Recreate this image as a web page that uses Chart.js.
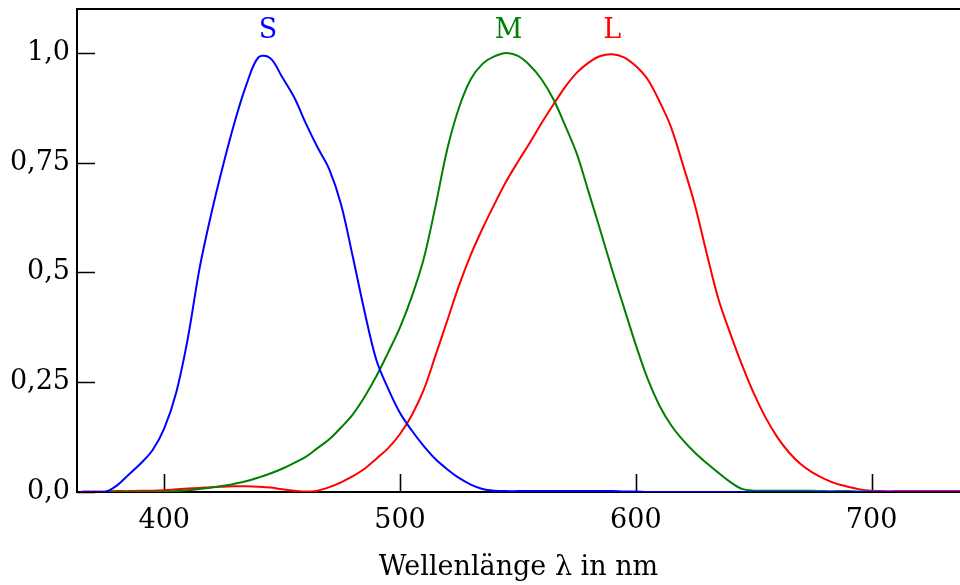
<!DOCTYPE html>
<html>
<head>
<meta charset="utf-8">
<script src="https://cdn.jsdelivr.net/npm/chart.js@4"></script>
<style>
  body { margin: 0; background: #fff; }
  canvas { display: block; }
</style>
</head>
<body>
<canvas id="coneChart" width="960" height="585"></canvas>
<script>
// wavelength grid (nm) and normalised cone sensitivities
const wavelengths = [365, 370, 375, 380, 385, 390, 395, 400, 405, 410, 415, 420, 425, 430, 435, 440, 445, 450, 455, 460,
    465, 470, 475, 480, 485, 490, 495, 500, 505, 510, 515, 520, 525, 530, 535, 540, 545, 550, 555, 560,
    565, 570, 575, 580, 585, 590, 595, 600, 605, 610, 615, 620, 625, 630, 635, 640, 645, 650, 655, 660,
    665, 670, 675, 680, 685, 690, 695, 700, 705, 710, 715, 720, 725, 730, 735, 740];

const sCone = [0, 0, 0, 0.015, 0.04, 0.065, 0.095, 0.145, 0.225, 0.35, 0.51, 0.635, 0.745, 0.845, 0.93, 0.99, 0.988, 0.945, 0.9, 0.84,
    0.785, 0.735, 0.655, 0.535, 0.41, 0.3, 0.235, 0.18, 0.14, 0.105, 0.075, 0.052, 0.032, 0.017, 0.007, 0.003, 0.002, 0.002, 0.002, 0.002,
    0.002, 0.002, 0.002, 0.002, 0.002, 0.002, 0.001, 0.001, 0, 0, 0, 0, 0, 0, 0, 0, 0, 0, 0, 0,
    0, 0, 0, 0, 0, 0, 0, 0, 0, 0, 0, 0, 0, 0, 0, 0];

const mCone = [0, 0, 0, 0, 0, 0, 0, 0, 0.002, 0.004, 0.007, 0.01, 0.014, 0.019, 0.025, 0.033, 0.042, 0.053, 0.066, 0.08,
    0.1, 0.12, 0.147, 0.177, 0.217, 0.264, 0.318, 0.375, 0.445, 0.53, 0.65, 0.78, 0.875, 0.94, 0.975, 0.992, 1.0, 0.993, 0.972, 0.94,
    0.895, 0.835, 0.77, 0.683, 0.595, 0.505, 0.42, 0.335, 0.258, 0.197, 0.152, 0.118, 0.09, 0.066, 0.044, 0.023, 0.007, 0.003, 0.003, 0.003,
    0.003, 0.003, 0.003, 0.002, 0.002, 0.002, 0.001, 0.001, 0, 0, 0, 0, 0, 0, 0, 0];

const lCone = [0.001, 0.001, 0.001, 0.002, 0.002, 0.003, 0.003, 0.004, 0.006, 0.008, 0.009, 0.011, 0.012, 0.013, 0.013, 0.012, 0.01, 0.006, 0.003, 0.001,
    0.003, 0.011, 0.022, 0.036, 0.053, 0.076, 0.1, 0.132, 0.175, 0.232, 0.31, 0.39, 0.47, 0.54, 0.6, 0.655, 0.707, 0.752, 0.795, 0.84,
    0.882, 0.922, 0.955, 0.978, 0.993, 0.997, 0.99, 0.97, 0.94, 0.89, 0.83, 0.745, 0.655, 0.545, 0.44, 0.362, 0.29, 0.225, 0.17, 0.125,
    0.09, 0.063, 0.044, 0.03, 0.019, 0.012, 0.006, 0.003, 0.002, 0.002, 0.002, 0.002, 0.002, 0.002, 0.002, 0.002];

const coneNames = ['S', 'M', 'L'];
const coneColors = ['#0000ff', '#008000', '#ff0000'];
// where the S/M/L names sit (wavelength, value)
const nameAnchorsX = [444, 546, 590];
const nameAnchorY = 1.05;

const xTicks = [400, 500, 600, 700];
const yTicks = [0, 0.25, 0.5, 0.75, 1.0];
const yTickLabels = ['0,0', '0,25', '0,5', '0,75', '1,0'];

const serif = 'DejaVu Serif';

function points(values) {
    return wavelengths.map((w, i) => ({ x: w, y: values[i] }));
}

// inner tick marks, top frame line and the S/M/L names
const frame = {
    id: 'frame',
    beforeDatasetsDraw(chart) {
        const { ctx, chartArea: a, scales: { x, y } } = chart;
        ctx.save();
        ctx.strokeStyle = '#000';
        ctx.lineWidth = 2;
        ctx.beginPath();
        ctx.moveTo(a.left - 1, a.top);
        ctx.lineTo(a.right, a.top);
        ctx.stroke();
        ctx.lineWidth = 1.6;
        ctx.beginPath();
        xTicks.forEach(v => {
            const px = Math.round(x.getPixelForValue(v)) + 0.5;
            ctx.moveTo(px, a.bottom);
            ctx.lineTo(px, a.bottom - 18);
        });
        yTicks.forEach(v => {
            const py = Math.round(y.getPixelForValue(v)) + 0.5;
            ctx.moveTo(a.left, py);
            ctx.lineTo(a.left + 18, py);
        });
        ctx.stroke();
        ctx.restore();
    },
    afterDatasetsDraw(chart) {
        const { ctx, scales: { x, y } } = chart;
        ctx.save();
        ctx.font = '27px "' + serif + '"';
        ctx.textAlign = 'center';
        ctx.textBaseline = 'middle';
        coneNames.forEach((n, i) => {
            ctx.fillStyle = coneColors[i];
            ctx.fillText(n, x.getPixelForValue(nameAnchorsX[i]), y.getPixelForValue(nameAnchorY));
        });
        ctx.restore();
    }
};

const ctx = document.getElementById('coneChart').getContext('2d');
new Chart(ctx, {
    type: 'line',
    data: {
        datasets: [
            { label: 'S', data: points(sCone), borderColor: coneColors[0] },
            { label: 'M', data: points(mCone), borderColor: coneColors[1] },
            { label: 'L', data: points(lCone), borderColor: coneColors[2] }
        ]
    },
    options: {
        responsive: false,
        animation: false,
        layout: { padding: { top: 9, right: 0, bottom: 0, left: 0 } },
        elements: {
            point: { radius: 0 },
            line: { borderWidth: 2, tension: 0.35, fill: false }
        },
        plugins: {
            legend: { display: false },
            tooltip: { enabled: false }
        },
        scales: {
            x: {
                type: 'linear',
                min: 363,
                max: 737.5,
                afterBuildTicks: scale => { scale.ticks = xTicks.map(v => ({ value: v })); },
                afterFit: scale => { scale.height = 93; scale.paddingLeft = 0; scale.paddingRight = 0; },
                grid: { display: false, drawTicks: false },
                border: { display: true, color: '#000', width: 2 },
                ticks: {
                    color: '#000',
                    padding: 13,
                    maxRotation: 0,
                    font: { family: serif, size: 27 },
                    callback: v => String(v)
                },
                title: {
                    display: true,
                    text: 'Wellenlänge λ in nm',
                    color: '#000',
                    font: { family: serif, size: 27 },
                    padding: { top: 0, bottom: 1 }
                }
            },
            y: {
                min: 0,
                max: 1.1,
                afterBuildTicks: scale => { scale.ticks = yTicks.map(v => ({ value: v })); },
                afterFit: scale => { scale.width = 77; scale.paddingTop = 0; scale.paddingBottom = 0; },
                grid: { display: false, drawTicks: false },
                border: { display: true, color: '#000', width: 2 },
                ticks: {
                    color: '#000',
                    padding: 7,
                    font: { family: serif, size: 27 },
                    callback: (v, i) => yTickLabels[i]
                }
            }
        }
    },
    plugins: [frame]
});
</script>
</body>
</html>
